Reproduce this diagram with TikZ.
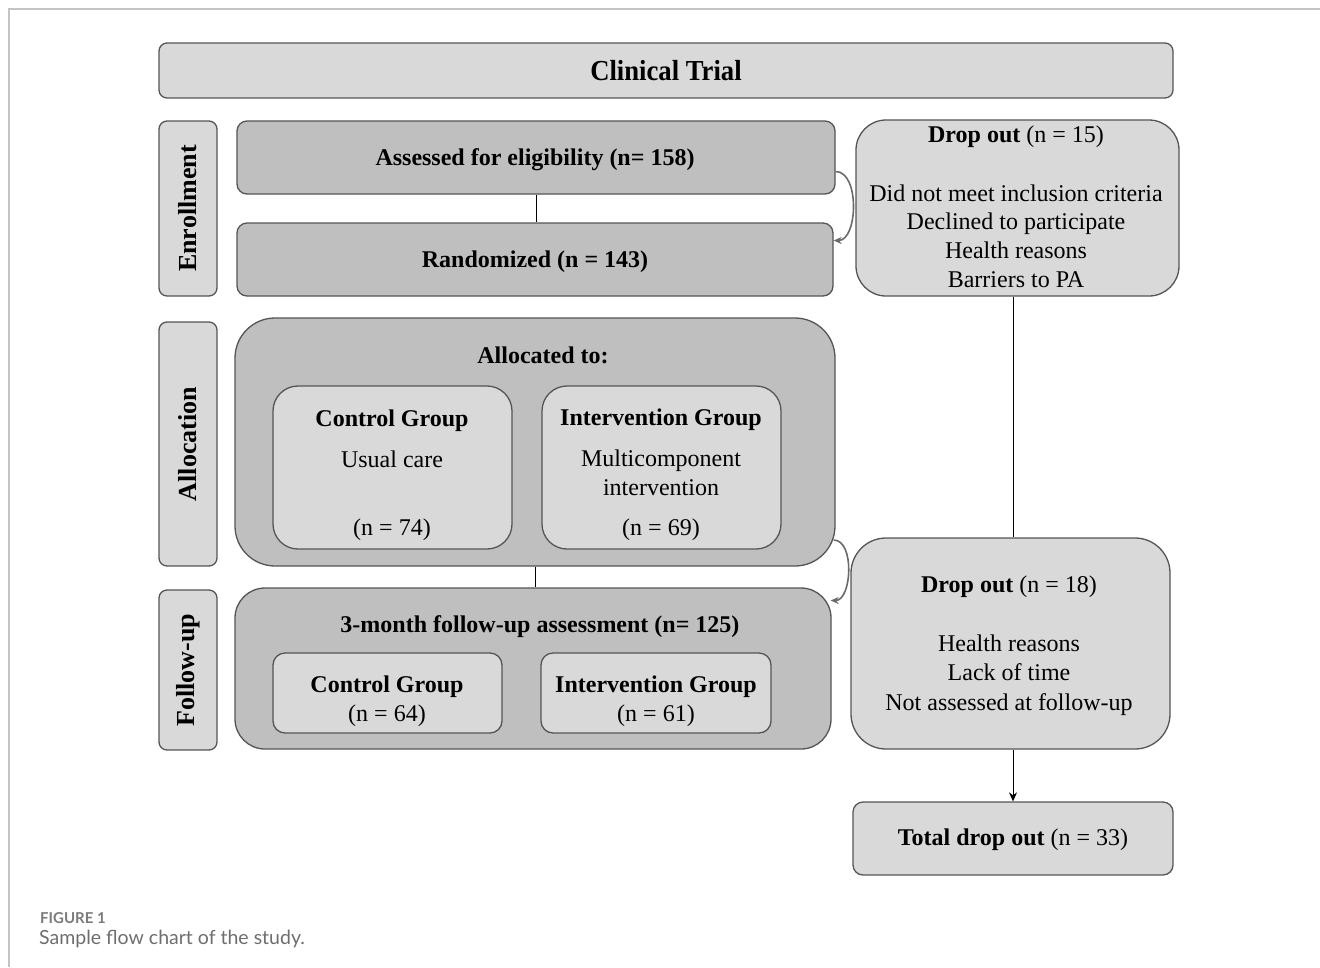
\documentclass[tikz,border=0pt]{standalone}
\usepackage{fontspec}
\setmainfont{Liberation Serif}
\newfontfamily\capfont{Lato}
\usetikzlibrary{arrows.meta}
\definecolor{lightfill}{HTML}{D9D9D9}
\definecolor{darkfill}{HTML}{BFBFBF}
\definecolor{edge}{HTML}{555555}
\definecolor{arrowgray}{HTML}{6A6A6A}
\definecolor{framegray}{HTML}{C4C4C4}
\definecolor{captiongray}{HTML}{7A7A7A}
\definecolor{captiongrayb}{HTML}{6E6E6E}
\tikzset{
  box/.style={draw=edge, line width=1.3pt, inner sep=0pt},
  lbox/.style={box, fill=lightfill},
  dbox/.style={box, fill=darkfill},
  txt/.style={inner sep=0pt, font=\fontsize{24}{29}\selectfont, text height=17pt, text depth=3pt},
  btxt/.style={txt, font=\fontsize{24}{29}\selectfont\bfseries},
  vtxt/.style={inner sep=0pt, font=\fontsize{26}{30}\selectfont\bfseries, rotate=90},
  curvearrow/.style={draw=arrowgray, line width=1.6pt, -{Stealth[length=8pt,width=7pt]}},
  plainline/.style={draw=black, line width=1pt},
}
\begin{document}
\begin{tikzpicture}[x=1pt, y=-1pt]
\useasboundingbox (0,0) rectangle (1320,967);
% frame
\draw[framegray, line width=1.2pt] (1320,9) -- (9,9) -- (9,967);

% title
\node[lbox, rounded corners=8pt, minimum width=1014pt, minimum height=55pt] (ct) at (666,70.5) {};
\node[inner sep=0pt, font=\fontsize{29}{31}\selectfont\bfseries, xscale=0.92] (ctt) at (666,71) {Clinical Trial};

% stage labels
\node[lbox, rounded corners=8pt, minimum width=58pt, minimum height=175pt] (enr) at (188,208.5) {};
\node[vtxt] (enrt) at (188,208.5) {Enrollment};
\node[lbox, rounded corners=8pt, minimum width=58pt, minimum height=244pt] (alc) at (188,444) {};
\node[vtxt] (alct) at (188,444) {Allocation};
\node[lbox, rounded corners=8pt, minimum width=58pt, minimum height=160pt] (fol) at (188,670) {};
\node[vtxt] (folt) at (188,670) {Follow-up};

% enrollment
\node[dbox, rounded corners=10pt, minimum width=598pt, minimum height=73pt] (assess) at (536,157.5) {};
\node[btxt] (assesst) at (535,158) {Assessed for eligibility (n= 158)};
\node[dbox, rounded corners=10pt, minimum width=596pt, minimum height=73pt] (rand) at (535,259.5) {};
\node[txt] (randt) at (535,260) {\textbf{Randomized (n = 143)}};
\draw[plainline] (assess.south) -- (assess.south |- rand.north);

% allocation
\node[dbox, rounded corners=40pt, minimum width=600pt, minimum height=248pt] (alloc) at (535,442) {};
\node[btxt] (alloct) at (543,356) {Allocated to:};
\node[lbox, rounded corners=25pt, minimum width=239pt, minimum height=163pt] (cg) at (392.5,467.5) {};
\node[btxt] (cgt) at (392,419) {Control Group};
\node[txt] (cgu) at (392,460) {Usual care};
\node[txt] (cgn) at (392,528) {(n = 74)};
\node[lbox, rounded corners=25pt, minimum width=239pt, minimum height=163pt] (ig) at (661.5,467.5) {};
\node[btxt] (igt) at (661,418) {Intervention Group};
\node[txt] (igm) at (661,459) {Multicomponent};
\node[txt] (igi) at (661,488) {intervention};
\node[txt] (ign) at (661,528) {(n = 69)};

% follow-up
\node[dbox, rounded corners=30pt, minimum width=596pt, minimum height=161pt] (fu) at (533,668.5) {};
\draw[plainline] (alloc.south) -- (alloc.south |- fu.north);
\node[btxt] (fut) at (540,625) {3-month follow-up assessment (n= 125)};
\node[lbox, rounded corners=12pt, minimum width=229pt, minimum height=80pt] (fcg) at (387.5,693) {};
\node[btxt] (fcgt) at (387,685) {Control Group};
\node[txt] (fcgn) at (387,714) {(n = 64)};
\node[lbox, rounded corners=12pt, minimum width=230pt, minimum height=80pt] (fig) at (656,693) {};
\node[btxt] (figt) at (656,685) {Intervention Group};
\node[txt] (fign) at (656,714) {(n = 61)};

% drop out 15
\node[lbox, rounded corners=30pt, minimum width=323pt, minimum height=176pt] (d15) at (1017.5,208) {};
\node[txt] (d15h) at (1016,135) {\textbf{Drop out} (n = 15)};
\node[txt] (d15a) at (1016,194) {Did not meet inclusion criteria};
\node[txt] (d15b) at (1016,222) {Declined to participate};
\node[txt] (d15c) at (1016,251) {Health reasons};
\node[txt] (d15d) at (1016,280) {Barriers to PA};

% drop out 18
\node[lbox, rounded corners=35pt, minimum width=319pt, minimum height=211pt] (d18) at (1010.5,643.5) {};
\node[txt] (d18h) at (1009,585) {\textbf{Drop out} (n = 18)};
\node[txt] (d18a) at (1009,644) {Health reasons};
\node[txt] (d18b) at (1009,673) {Lack of time};
\node[txt] (d18c) at (1009,703) {Not assessed at follow-up};

% total
\node[lbox, rounded corners=10pt, minimum width=320pt, minimum height=73pt] (tot) at (1013,838.5) {};
\node[txt] (tott) at (1013,838) {\textbf{Total drop out} (n = 33)};

% connectors on the right
\draw[plainline] (tot.north |- d15.south) -- (tot.north |- d18.north);
\draw[plainline, -{Stealth[length=9pt,width=8pt]}] (tot.north |- d18.south) -- (tot.north);

% curved arrows
\draw[curvearrow] ([yshift=-14pt]assess.east) to[out=0, in=0, looseness=0.9] ([yshift=19pt]rand.east);
\draw[curvearrow] ([xshift=-2pt,yshift=-98pt]alloc.east) to[out=0, in=0, looseness=0.9] ([xshift=-1pt,yshift=68pt]fu.east);

% caption
\node[anchor=base west, inner sep=0pt, text=captiongray, font=\capfont\fontsize{15}{17}\selectfont\bfseries] (cap1) at (40,923) {FIGURE 1};
\node[anchor=base west, inner sep=0pt, text=captiongrayb, font=\capfont\fontsize{19.5}{22}\selectfont] (cap2) at (39,944) {Sample flow chart of the study.};
\end{tikzpicture}
\end{document}
